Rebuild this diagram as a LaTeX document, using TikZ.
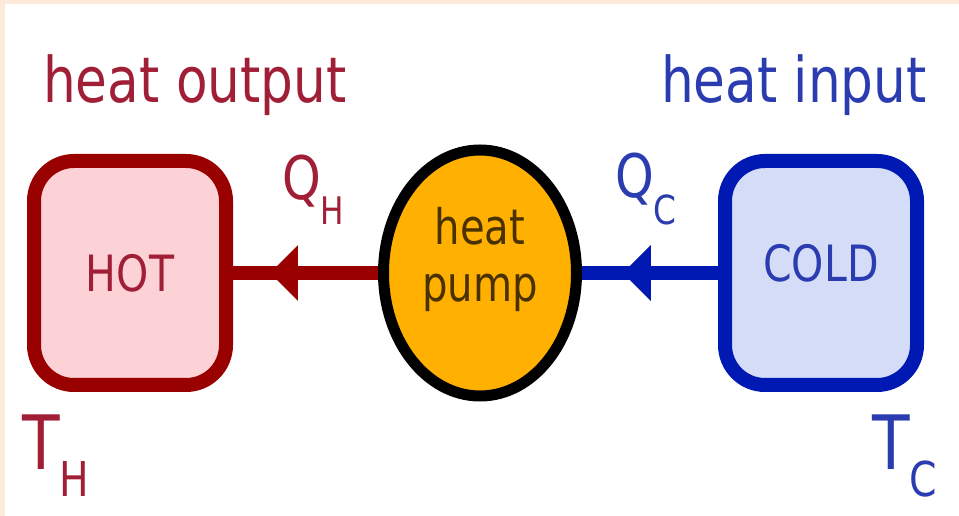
\documentclass[tikz,border=0pt]{standalone}
\usepackage{fontspec}
\setmainfont{DejaVu Sans}[FakeStretch=0.82]
\usepackage{xcolor}
\usepackage{tikz}
\usetikzlibrary{arrows.meta,shapes.geometric,decorations.markings}
\definecolor{hotred}{HTML}{990000}
\definecolor{hotfill}{HTML}{FCD2D6}
\definecolor{hottext}{HTML}{A01E36}
\definecolor{coldblue}{HTML}{0019B3}
\definecolor{coldfill}{HTML}{D4DCF8}
\definecolor{coldtext}{HTML}{2A3CB0}
\definecolor{pumporange}{HTML}{FFB000}
\definecolor{pumpink}{HTML}{4A3200}
\definecolor{framepeach}{HTML}{FDEADB}

\begin{document}
\begin{tikzpicture}[x=1pt,y=1pt,
  reservoir/.style={rounded corners=40pt, line width=14pt, minimum width=192pt,
    minimum height=224pt, inner sep=0pt, font=\fontsize{50}{50}\selectfont},
  flow/.style={line width=14pt, postaction={decorate}, decoration={markings,
    mark=at position #1 with {\arrow{Triangle[width=54pt,length=28pt]}}}},
  heading/.style={anchor=base west, inner sep=0pt, font=\fontsize{63}{63}\selectfont},
  qlabel/.style={anchor=base west, inner sep=0pt, font=\fontsize{60}{60}\selectfont},
  tlabel/.style={anchor=base west, inner sep=0pt, font=\fontsize{75}{75}\selectfont}]
\fill[framepeach] (0,0) rectangle (959,516);
\fill[white] (5,0) rectangle (959,512);
\useasboundingbox (0,0) rectangle (959,516);

\node[reservoir, draw=hotred, fill=hotfill, text=hottext] (hot) at (130,243) {HOT};
\node[reservoir, draw=coldblue, fill=coldfill, text=coldtext] (cold) at (821,243)
  {\raisebox{10pt}[\height][0pt]{COLD}};
\node[ellipse, draw=black, line width=11pt, fill=pumporange, minimum width=193pt,
  minimum height=246pt, inner sep=0pt] (pump) at (480,243) {};
\node[align=center, text=pumpink, font=\fontsize{49}{57}\selectfont] (pumplabel)
  at ([yshift=14pt]pump.center) {heat\\pump};

\draw[flow=0.745, color=hotred] (pump) -- (hot);
\draw[flow=0.70, color=coldblue] (cold) -- (pump);

\node[heading, text=hottext] (output) at (43,413) {heat output};
\node[heading, text=coldtext, anchor=base east] (input) at (927,413) {heat input};

\node[qlabel, text=hottext] (qh) at (282,316) {Q\raisebox{-25pt}{\fontsize{38}{38}\selectfont H}};
\node[qlabel, text=coldtext] (qc) at (615,318) {Q\raisebox{-27pt}{\fontsize{40}{40}\selectfont C}};

\node[tlabel, text=hottext] (th) at (22,46) {T\raisebox{-27pt}{\fontsize{48}{48}\selectfont H}};
\node[tlabel, text=coldtext] (tc) at (872,46) {T\raisebox{-27pt}{\fontsize{48}{48}\selectfont C}};
\end{tikzpicture}
\end{document}
